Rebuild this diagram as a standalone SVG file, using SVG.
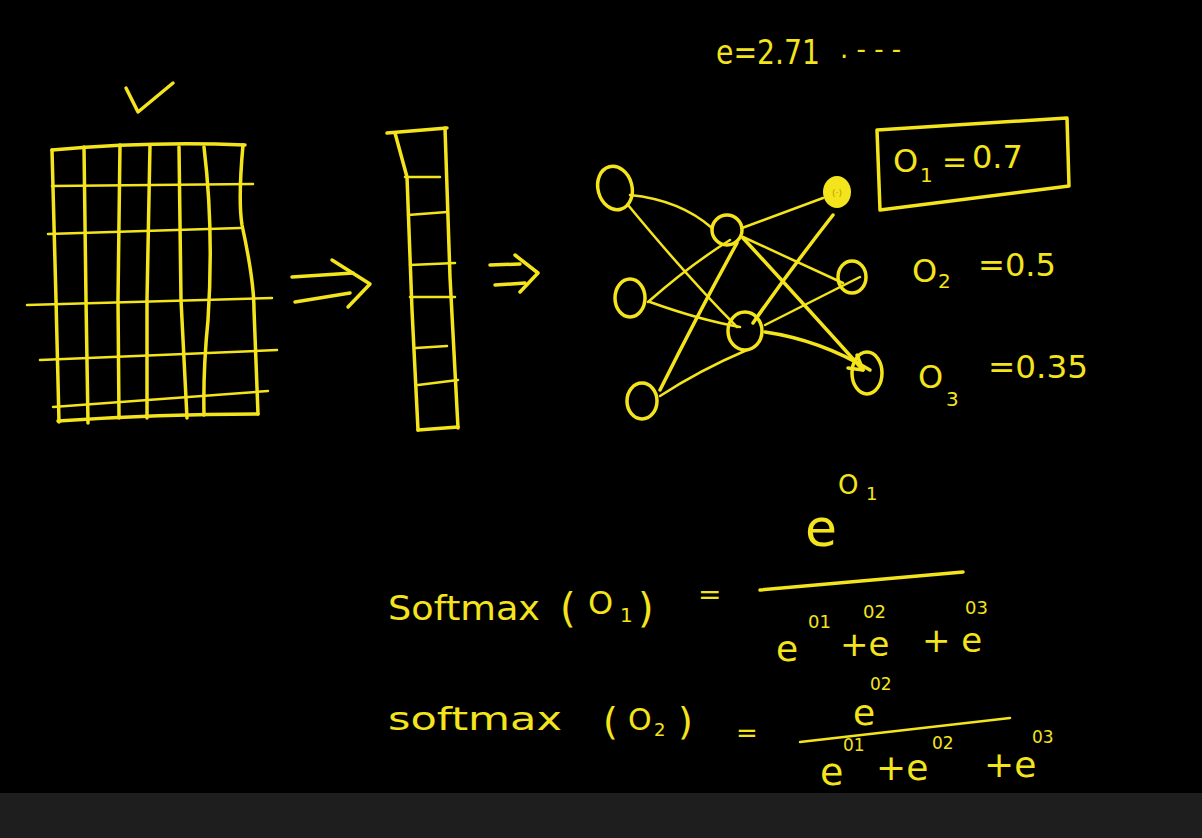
<svg xmlns="http://www.w3.org/2000/svg" width="1202" height="838" viewBox="0 0 1202 838">
<style>
.s{fill:none;stroke:#f4e41c;stroke-width:3.5;stroke-linecap:round;stroke-linejoin:round}
.t{stroke-width:2.5}
.w{fill:#f4e41c;font-family:"DejaVu Sans","Liberation Sans",sans-serif}
</style>
<rect width="1202" height="838" fill="#000"/>
<rect y="793" width="1202" height="45" fill="#1e1e1e"/>

<g id="check"><path class="s" d="M126,88 L138,112 L173,83"/></g>

<g id="grid">
<path class="s" d="M52,150 Q150,141 245,145"/>
<path class="s" d="M243,145 Q238,200 242,225 Q254,280 254,310 L258,414"/>
<path class="s" d="M58,421 Q160,414 258,414"/>
<path class="s" d="M52,150 L56,300 L59,422"/>
<path class="s" d="M84,147 L86,300 L88,423"/>
<path class="s" d="M120,145 L118,300 L119,418"/>
<path class="s" d="M150,145 L147,300 L147,418"/>
<path class="s" d="M179,147 L181,300 L187,418"/>
<path class="s" d="M204,147 Q214,230 208,320 Q203,370 204,415"/>
<path class="s t" d="M52,186 L253,184"/>
<path class="s t" d="M48,234 L240,228"/>
<path class="s t" d="M27,305 L272,298"/>
<path class="s t" d="M40,360 L277,350"/>
<path class="s t" d="M53,407 L268,391"/>
</g>

<g id="arrow1">
<path class="s" d="M292,277 L353,273"/>
<path class="s" d="M295,302 L350,293"/>
<path class="s" d="M332,260 L370,284 L348,307"/>
</g>

<g id="vector">
<path class="s" d="M387,133 L447,128"/>
<path class="s" d="M395,133 L407,177 L412,310 L418,430"/>
<path class="s" d="M445,128 L450,277 L458,428"/>
<path class="s" d="M418,430 L458,427"/>
<path class="s t" d="M405,177 L440,177"/>
<path class="s t" d="M408,215 L447,212"/>
<path class="s t" d="M410,265 L455,263"/>
<path class="s t" d="M410,297 L455,297"/>
<path class="s t" d="M416,348 L447,346"/>
<path class="s t" d="M418,385 L458,380"/>
</g>

<g id="arrow2">
<path class="s" d="M490,265 L520,264"/>
<path class="s" d="M495,285 L525,283"/>
<path class="s" d="M515,255 L538,273 L520,292"/>
</g>

<g id="connectors">
<path class="s t" d="M630,195 Q680,200 712,228"/>
<path class="s t" d="M628,205 Q690,280 737,327"/>
<path class="s t" d="M648,302 Q690,265 730,240"/>
<path class="s t" d="M650,302 Q700,320 740,327"/>
<path class="s" d="M660,390 Q700,310 737,243"/>
<path class="s t" d="M660,396 Q700,370 747,350"/>
<path class="s t" d="M742,228 L823,198"/>
<path class="s t" d="M743,237 L843,283"/>
<path class="s" d="M743,238 Q800,300 863,370"/>
<path class="s" d="M857,355 L863,370 L848,368"/>
<path class="s" d="M753,323 Q790,270 833,215"/>
<path class="s t" d="M765,325 L860,277"/>
<path class="s" d="M765,332 Q820,340 870,370"/>
</g>

<g id="n-i1"><ellipse class="s" cx="615" cy="188" rx="17" ry="22" transform="rotate(-15 615 188)"/></g>
<g id="n-i2"><ellipse class="s" cx="630" cy="298" rx="15" ry="19"/></g>
<g id="n-i3"><ellipse class="s" cx="642" cy="401" rx="15" ry="18"/></g>
<g id="n-h1"><ellipse class="s" cx="727" cy="230" rx="15" ry="15"/></g>
<g id="n-h2"><ellipse class="s" cx="745" cy="331" rx="17" ry="19"/></g>
<g id="n-o1"><ellipse cx="837" cy="192" rx="14" ry="16" fill="#f4e41c"/><text x="837" y="196" font-size="9" text-anchor="middle" fill="#b0a000" font-family="DejaVu Sans,sans-serif">(·)</text></g>
<g id="n-o2"><ellipse class="s" cx="852" cy="277" rx="14" ry="16"/></g>
<g id="n-o3"><ellipse class="s" cx="867" cy="373" rx="15" ry="21"/></g>

<g id="e-value"><text class="w" x="716" y="64" font-size="34" textLength="104" lengthAdjust="spacingAndGlyphs">e=2.71</text><text class="w" x="840" y="58" font-size="26">. - - -</text></g>

<g id="box-o1">
<path class="s" d="M877,130 L1067,118 L1069,186 L880,210 Z"/>
<text class="w" x="893" y="172" font-size="32">O</text>
<text class="w" x="920" y="182" font-size="20">1</text>
<text class="w" x="942" y="172" font-size="30">=</text>
<text class="w" x="972" y="168" font-size="32">0.7</text>
</g>
<g id="label-o2">
<text class="w" x="912" y="282" font-size="32">O</text>
<text class="w" x="938" y="288" font-size="20">2</text>
<text class="w" x="978" y="276" font-size="32" textLength="78" lengthAdjust="spacingAndGlyphs">=0.5</text>
</g>
<g id="label-o3">
<text class="w" x="918" y="388" font-size="32">O</text>
<text class="w" x="946" y="406" font-size="20">3</text>
<text class="w" x="988" y="378" font-size="32" textLength="100" lengthAdjust="spacingAndGlyphs">=0.35</text>
</g>

<g id="softmax-o1">
<text class="w" x="388" y="620" font-size="34" textLength="152" lengthAdjust="spacingAndGlyphs">Softmax</text>
<text class="w" x="560" y="622" font-size="40">(</text>
<text class="w" x="588" y="614" font-size="32">O</text>
<text class="w" x="620" y="622" font-size="20">1</text>
<text class="w" x="638" y="622" font-size="40">)</text>
<text class="w" x="698" y="604" font-size="28">=</text>
<text class="w" x="805" y="546" font-size="52">e</text>
<text class="w" x="838" y="494" font-size="26">O</text>
<text class="w" x="866" y="500" font-size="18">1</text>
<path class="s" d="M760,590 L963,572"/>
<text class="w" x="776" y="661" font-size="36">e</text>
<text class="w" x="808" y="628" font-size="18">01</text>
<text class="w" x="840" y="656" font-size="34">+e</text>
<text class="w" x="863" y="618" font-size="18">02</text>
<text class="w" x="922" y="652" font-size="34">+ e</text>
<text class="w" x="965" y="614" font-size="18">03</text>
</g>

<g id="softmax-o2">
<text class="w" x="388" y="730" font-size="32" textLength="174" lengthAdjust="spacingAndGlyphs">softmax</text>
<text class="w" x="603" y="734" font-size="38">(</text>
<text class="w" x="628" y="730" font-size="30">O</text>
<text class="w" x="654" y="736" font-size="18">2</text>
<text class="w" x="678" y="734" font-size="38">)</text>
<text class="w" x="736" y="742" font-size="26">=</text>
<text class="w" x="853" y="725" font-size="36">e</text>
<text class="w" x="870" y="690" font-size="17">02</text>
<path class="s t" d="M800,742 L1010,718"/>
<text class="w" x="820" y="785" font-size="38">e</text>
<text class="w" x="843" y="751" font-size="17">01</text>
<text class="w" x="876" y="780" font-size="36">+e</text>
<text class="w" x="932" y="749" font-size="17">02</text>
<text class="w" x="984" y="777" font-size="36">+e</text>
<text class="w" x="1032" y="743" font-size="17">03</text>
</g>
</svg>
